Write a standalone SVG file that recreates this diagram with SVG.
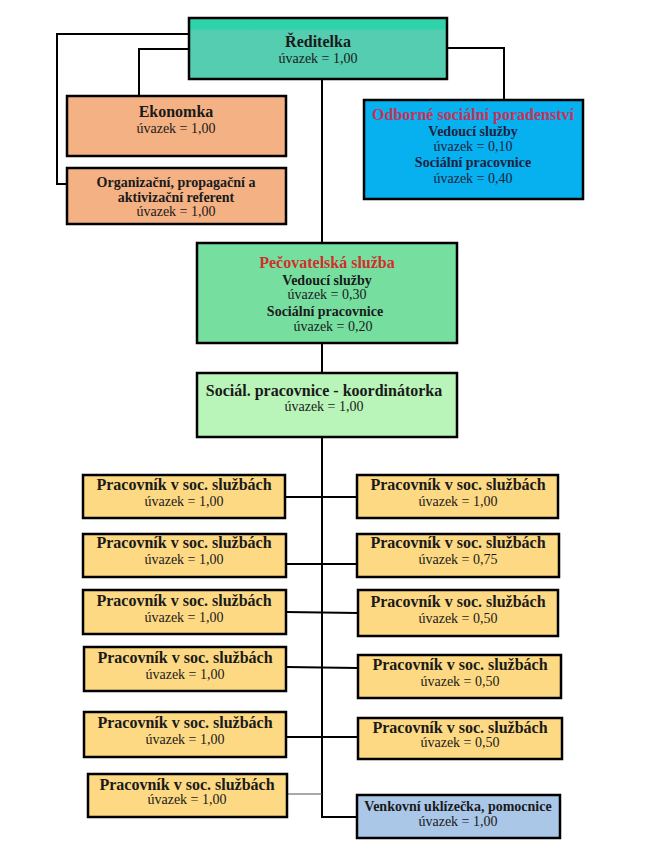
<svg xmlns="http://www.w3.org/2000/svg" width="657" height="852" viewBox="0 0 657 852">
<style>
  .box { stroke: #000; stroke-width: 2.5; }
  .wk { fill: #fdd983; }
  .sal { fill: #f4b183; }
  .conn { fill: none; stroke: #000; stroke-width: 2; }
  text { font-family: "Liberation Serif", "Times New Roman", serif; text-anchor: middle; fill: #1a1a1a; }
  .b16 { font-size: 16px; font-weight: bold; }
  .b14 { font-size: 14px; font-weight: bold; }
  .n14 { font-size: 14px; }
  .red { fill: #d0302c; }
  .nv { fill: #1c2340; }
</style>
<defs>
  <linearGradient id="gTop" x1="0" y1="0" x2="0" y2="1">
    <stop offset="0" stop-color="#2ed3ab"/>
    <stop offset="0.18" stop-color="#2ed3ab"/>
    <stop offset="0.2" stop-color="#55cdb1"/>
    <stop offset="1" stop-color="#55cdb1"/>
  </linearGradient>
</defs>

<g id="connectors">
  <polyline class="conn" points="189,34 57,34 57,184 67,184"/>
  <polyline class="conn" points="189,49 139,49 139,96"/>
  <polyline class="conn" points="447,48 504,48 504,100"/>
  <line class="conn" x1="322" y1="79" x2="322" y2="243"/>
  <line class="conn" x1="322" y1="343" x2="322" y2="373"/>
  <polyline class="conn" points="322,437 322,817 357,817"/>
  <line class="conn" x1="285" y1="497" x2="357" y2="497"/>
  <line class="conn" x1="286" y1="564" x2="357" y2="564"/>
  <line class="conn" x1="286" y1="612" x2="358" y2="613"/>
  <line class="conn" x1="286" y1="667" x2="358" y2="668"/>
  <line class="conn" x1="286" y1="737" x2="358" y2="737"/>
  <line x1="287" y1="794" x2="322" y2="794" stroke="#555" stroke-width="1.2"/>
</g>

<g id="reditelka">
  <rect class="box" x="189" y="18" width="258" height="61" fill="url(#gTop)"/>
  <text class="b16" x="318" y="47">Ředitelka</text>
  <text class="n14" x="318" y="63">úvazek = 1,00</text>
</g>

<g id="ekonomka">
  <rect class="box sal" x="67" y="96" width="219" height="60"/>
  <text class="b16" x="176" y="117">Ekonomka</text>
  <text class="n14" x="176" y="133">úvazek = 1,00</text>
</g>

<g id="referent">
  <rect class="box sal" x="67" y="168" width="219" height="56"/>
  <text class="b14" x="176" y="187">Organizační, propagační a</text>
  <text class="b14" x="176" y="202">aktivizační referent</text>
  <text class="n14" x="176" y="216">úvazek = 1,00</text>
</g>

<g id="poradenstvi">
  <rect class="box" x="364" y="100" width="219" height="99" fill="#07b0ef"/>
  <text class="b16" x="473" y="120" style="fill:#c8325a">Odborné sociální poradenství</text>
  <text class="b14 nv" x="473" y="136">Vedoucí služby</text>
  <text class="n14 nv" x="473" y="151">úvazek = 0,10</text>
  <text class="b14 nv" x="473" y="167">Sociální pracovnice</text>
  <text class="n14 nv" x="473" y="183">úvazek = 0,40</text>
</g>

<g id="pecovatelska">
  <rect class="box" x="197" y="243" width="260" height="100" fill="#76dfa0"/>
  <text class="b16 red" x="327" y="268">Pečovatelská služba</text>
  <text class="b14" x="327" y="285">Vedoucí služby</text>
  <text class="n14" x="327" y="299">úvazek = 0,30</text>
  <text class="b14" x="325" y="316">Sociální pracovnice</text>
  <text class="n14" x="333" y="331">úvazek = 0,20</text>
</g>

<g id="koordinatorka">
  <rect class="box" x="197" y="373" width="260" height="64" fill="#b9f5b9"/>
  <text class="b16" x="324" y="396">Sociál. pracovnice - koordinátorka</text>
  <text class="n14" x="324" y="411">úvazek = 1,00</text>
</g>

<g id="l1">
  <rect class="box wk" x="83" y="475" width="202" height="43"/>
  <text class="b16" x="184" y="490">Pracovník v soc. službách</text>
  <text class="n14" x="184" y="506">úvazek = 1,00</text>
</g>
<g id="r1">
  <rect class="box wk" x="357" y="475" width="201" height="43"/>
  <text class="b16" x="458" y="490">Pracovník v soc. službách</text>
  <text class="n14" x="458" y="506">úvazek = 1,00</text>
</g>
<g id="l2">
  <rect class="box wk" x="83" y="534" width="203" height="43"/>
  <text class="b16" x="184" y="548">Pracovník v soc. službách</text>
  <text class="n14" x="184" y="564">úvazek = 1,00</text>
</g>
<g id="r2">
  <rect class="box wk" x="357" y="534" width="202" height="43"/>
  <text class="b16" x="458" y="548">Pracovník v soc. službách</text>
  <text class="n14" x="458" y="564">úvazek = 0,75</text>
</g>
<g id="l3">
  <rect class="box wk" x="83" y="590" width="203" height="44"/>
  <text class="b16" x="184" y="606">Pracovník v soc. službách</text>
  <text class="n14" x="184" y="622">úvazek = 1,00</text>
</g>
<g id="r3">
  <rect class="box wk" x="358" y="590" width="200" height="46"/>
  <text class="b16" x="458" y="607">Pracovník v soc. službách</text>
  <text class="n14" x="458" y="623">úvazek = 0,50</text>
</g>
<g id="l4">
  <rect class="box wk" x="84" y="647" width="202" height="44"/>
  <text class="b16" x="185" y="663">Pracovník v soc. službách</text>
  <text class="n14" x="185" y="679">úvazek = 1,00</text>
</g>
<g id="r4">
  <rect class="box wk" x="358" y="655" width="203" height="43"/>
  <text class="b16" x="460" y="670">Pracovník v soc. službách</text>
  <text class="n14" x="460" y="686">úvazek = 0,50</text>
</g>
<g id="l5">
  <rect class="box wk" x="84" y="712" width="202" height="45"/>
  <text class="b16" x="185" y="728">Pracovník v soc. službách</text>
  <text class="n14" x="185" y="744">úvazek = 1,00</text>
</g>
<g id="r5">
  <rect class="box wk" x="358" y="718" width="204" height="41"/>
  <text class="b16" x="460" y="733">Pracovník v soc. službách</text>
  <text class="n14" x="460" y="747">úvazek = 0,50</text>
</g>
<g id="l6">
  <rect class="box wk" x="88" y="774" width="199" height="43"/>
  <text class="b16" x="187" y="790">Pracovník v soc. službách</text>
  <text class="n14" x="187" y="804">úvazek = 1,00</text>
</g>
<g id="venkovni">
  <rect class="box" x="357" y="795" width="203" height="43" fill="#aac7e8"/>
  <text class="b14" x="458" y="811">Venkovní uklízečka, pomocnice</text>
  <text class="n14" x="458" y="826">úvazek = 1,00</text>
</g>
</svg>
